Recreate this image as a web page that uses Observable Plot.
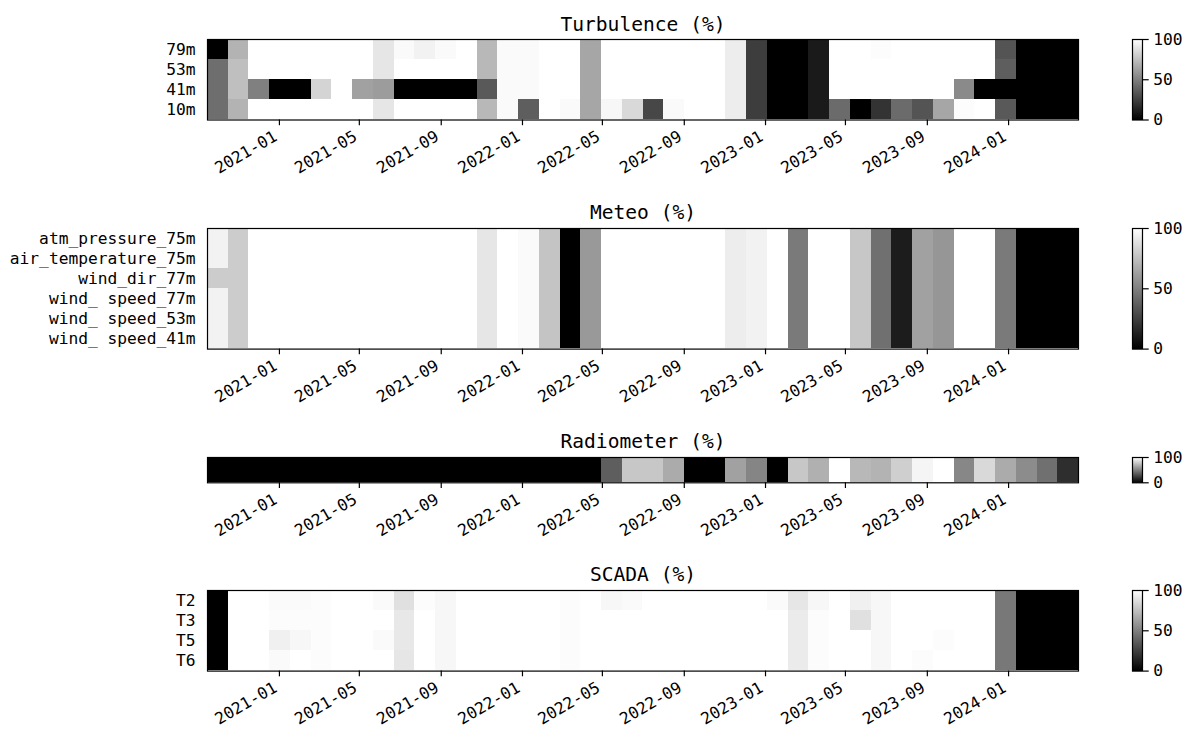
<!DOCTYPE html>
<html>
<head>
<meta charset="utf-8">
<script src="https://cdn.jsdelivr.net/npm/d3@7"></script>
<script src="https://cdn.jsdelivr.net/npm/@observablehq/plot@0.6"></script>
<style>
  body { margin: 0; background: #fff; }
  #fig { position: relative; width: 1186px; height: 729px; background: #fff; overflow: hidden;
         font-family: "DejaVu Sans Mono", monospace; }
  #fig svg { position: absolute; overflow: visible; }
</style>
</head>
<body>
<div id="fig"></div>
<script>
// Monthly data availability (%), 42 monthly bins spanning the campaign period
const periodStart = "2020-09-15";
const periodEnd = "2024-04-15";
const tickLabels = ["2021-01", "2021-05", "2021-09", "2022-01", "2022-05", "2022-09",
                    "2023-01", "2023-05", "2023-09", "2024-01"];

// Turbulence (sonic anemometers)
const turbulenceRows = ["79m", "53m", "41m", "10m"];
const turb79m = [0,70,100,100,100,100,100,100,90,98, 95,98,100,72,98,98,100,100,65,100, 100,100,100,100,100,93,24,0,0,10, 100,100,99,100,100,100,100,100,33,0, 0,0];
const turb53m = [43,75,100,100,100,100,100,100,90,100, 100,100,100,72,98,98,100,100,65,100, 100,100,100,100,100,93,24,0,0,10, 100,100,100,100,100,100,100,100,37,0, 0,0];
const turb41m = [43,75,50,0,0,83,100,63,61,0, 0,0,0,35,98,98,100,100,65,100, 100,100,100,100,100,93,24,0,0,10, 100,100,100,100,100,100,54,0,0,0, 0,0];
const turb10m = [43,70,100,100,100,100,100,100,90,100, 100,100,100,72,98,37,100,98,65,97, 85,28,98,100,100,93,24,0,0,10, 42,0,20,42,33,65,99,100,35,0, 0,0];

// Meteo mast sensors
const meteoRows = ["atm_pressure_75m", "air_temperature_75m", "wind_dir_77m",
                   "wind_ speed_77m", "wind_ speed_53m", "wind_ speed_41m"];
const atmPressure75m = [95,80,100,100,100,100,100,100,100,100, 100,100,100,90,100,98,77,0,60,100, 100,100,100,100,100,93,95,100,48,100, 100,78,44,11,63,59,100,100,48,0, 0,0];
const airTemperature75m = [95,80,100,100,100,100,100,100,100,100, 100,100,100,90,100,98,77,0,60,100, 100,100,100,100,100,93,95,100,48,100, 100,78,44,11,63,59,100,100,48,0, 0,0];
const windDir77m = [80,80,100,100,100,100,100,100,100,100, 100,100,100,90,100,98,77,0,60,100, 100,100,100,100,100,93,95,100,48,100, 100,78,44,11,63,59,100,100,48,0, 0,0];
const windSpeed77m = [95,80,100,100,100,100,100,100,100,100, 100,100,100,90,100,98,77,0,60,100, 100,100,100,100,100,93,95,100,48,100, 100,78,44,11,63,59,100,100,48,0, 0,0];
const windSpeed53m = [95,80,100,100,100,100,100,100,100,100, 100,100,100,90,100,98,77,0,60,100, 100,100,100,100,100,93,95,100,48,100, 100,78,44,11,63,59,100,100,48,0, 0,0];
const windSpeed41m = [95,80,100,100,100,100,100,100,100,100, 100,100,100,90,100,98,77,0,60,100, 100,100,100,100,100,93,95,100,48,100, 100,78,44,11,63,59,100,100,48,0, 0,0];

// Radiometer (single channel)
const radiometerRows = [""];
const radiometer = [0,0,0,0,0,0,0,0,0,0, 0,0,0,0,0,0,0,0,0,37, 78,78,67,0,0,63,52,0,78,69, 100,72,70,81,96,100,53,85,67,55, 44,18];

// SCADA turbines
const scadaRows = ["T2", "T3", "T5", "T6"];
const scadaT2 = [0,100,100,98,98,99,100,100,98,88, 99,97,100,100,100,100,100,99,100,97, 98,100,100,100,100,100,100,98,90,97, 100,94,97,100,100,100,100,100,47,0, 0,0];
const scadaT3 = [0,100,100,99,99,99,100,100,100,91, 100,97,100,100,100,100,100,99,100,100, 100,100,100,100,100,100,100,100,92,99, 100,88,97,100,100,100,100,100,47,0, 0,0];
const scadaT5 = [0,100,100,94,97,99,100,100,98,91, 100,97,100,100,100,100,100,99,100,100, 100,100,100,100,100,100,100,100,92,99, 100,100,97,100,100,99,100,100,47,0, 0,0];
const scadaT6 = [0,100,100,98,100,99,100,100,100,90, 100,97,100,100,100,100,100,99,100,100, 100,100,100,100,100,100,100,100,92,99, 100,100,97,100,99,100,100,100,47,0, 0,0];

const FONT = "DejaVu Sans Mono";
const TICK_FONT = 16.25;
const grayScale = {type: "linear", domain: [0, 100], range: ["#000000", "#ffffff"], interpolate: "rgb"};
const fig = document.getElementById("fig");

const t0 = new Date(periodStart + "T00:00:00Z");
const t1 = new Date(periodEnd + "T00:00:00Z");
const parseMonth = d3.utcParse("%Y-%m");
const tickDates = tickLabels.map(parseMonth);

// Heatmap panel: one row per sensor, one column per monthly bin
function panel({title, rows, series, frameTop, frameH, showY = true}) {
  const mt = 40, mb = 70;
  const n = series[0].length;
  const step = (t1 - t0) / n;
  const cells = [];
  rows.forEach((r, j) => series[j].forEach((v, i) => cells.push({
    row: r, start: new Date(+t0 + i * step), end: new Date(+t0 + (i + 1) * step), value: v
  })));
  const svg = Plot.plot({
    width: 1100, height: mt + frameH + mb,
    marginLeft: 207, marginRight: 22, marginTop: mt, marginBottom: mb,
    style: {fontFamily: FONT, fontSize: TICK_FONT + "px", color: "#000", background: "transparent"},
    x: {type: "utc", domain: [t0, t1]},
    y: {type: "band", domain: rows, padding: 0},
    color: grayScale,
    marks: [
      Plot.barX(cells, {x1: "start", x2: "end", y: "row", fill: "value", shapeRendering: "crispEdges"}),
      Plot.frame({stroke: "#000", strokeWidth: 1.2}),
      // tick marks
      Plot.axisX({ticks: tickDates, tickFormat: () => "", tickSize: 5.7, strokeWidth: 1.2, label: null}),
      // rotated date labels
      Plot.axisX({ticks: tickDates, tickFormat: (d, i) => tickLabels[i], tickRotate: -30,
                  textAnchor: "end", lineAnchor: "top", dx: -7,
                  tickSize: 0, tickPadding: 5.7 + 4, fontSize: TICK_FONT, label: null}),
      showY
        ? Plot.axisY({tickSize: 0, tickPadding: 12, fontSize: TICK_FONT, label: null})
        : Plot.axisY({ticks: [], label: null}),
      Plot.text([title], {frameAnchor: "top", lineAnchor: "bottom", dy: -9, fontSize: 19.6, fill: "#000"})
    ]
  });
  svg.style.left = "0px";
  svg.style.top = (frameTop - mt) + "px";
  fig.appendChild(svg);
}

// Vertical gray colour bar to the right of each panel
function colorbar({frameTop, frameH, ticks}) {
  const m = 10;
  const svg = Plot.plot({
    width: 60, height: frameH + 2 * m,
    marginLeft: 0, marginRight: 50, marginTop: m, marginBottom: m,
    style: {fontFamily: FONT, fontSize: TICK_FONT + "px", color: "#000", background: "transparent"},
    x: {domain: [0, 1], axis: null},
    y: {domain: [0, 100]},
    color: grayScale,
    marks: [
      Plot.raster({fill: (x, y) => y, x1: 0, x2: 1, y1: 0, y2: 100, pixelSize: 0.5}),
      Plot.frame({stroke: "#000", strokeWidth: 1.2}),
      Plot.axisY({anchor: "right", ticks, tickSize: 5.7, strokeWidth: 1.2, tickPadding: 5,
                  fontSize: TICK_FONT, label: null})
    ]
  });
  svg.style.left = "1132px";
  svg.style.top = (frameTop - m) + "px";
  fig.appendChild(svg);
}

panel({title: "Turbulence (%)", rows: turbulenceRows,
       series: [turb79m, turb53m, turb41m, turb10m], frameTop: 38.5, frameH: 80.5});
colorbar({frameTop: 38.5, frameH: 80.5, ticks: [0, 50, 100]});

panel({title: "Meteo (%)", rows: meteoRows,
       series: [atmPressure75m, airTemperature75m, windDir77m, windSpeed77m, windSpeed53m, windSpeed41m],
       frameTop: 227.7, frameH: 120.6});
colorbar({frameTop: 227.7, frameH: 120.6, ticks: [0, 50, 100]});

panel({title: "Radiometer (%)", rows: radiometerRows, series: [radiometer],
       frameTop: 456.7, frameH: 25.3, showY: false});
colorbar({frameTop: 456.7, frameH: 25.3, ticks: [0, 100]});

panel({title: "SCADA (%)", rows: scadaRows,
       series: [scadaT2, scadaT3, scadaT5, scadaT6], frameTop: 590, frameH: 80.6});
colorbar({frameTop: 590, frameH: 80.6, ticks: [0, 50, 100]});
</script>
</body>
</html>
